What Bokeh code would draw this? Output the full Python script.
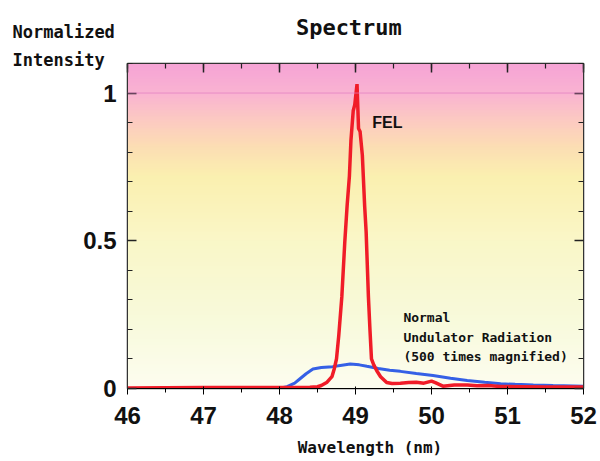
import numpy as np
from bokeh.plotting import figure
from bokeh.models import (Range1d, FixedTicker, LinearAxis, Label, Span, Title)
from bokeh.embed import file_html
from bokeh.resources import INLINE

# ---- data ----
fel_x = [46.0, 47.0, 48.0, 48.4, 48.5, 48.55, 48.62, 48.69, 48.72, 48.75, 48.78,
         48.82, 48.86, 48.89, 48.92, 48.94, 48.97, 48.99, 49.02, 49.04, 49.06,
         49.09, 49.12, 49.14, 49.17, 49.19, 49.21, 49.24, 49.28, 49.33, 49.41,
         49.48, 49.59, 49.7, 49.8, 49.9, 50.0, 50.05, 50.15, 50.3, 50.47, 50.6,
         50.75, 50.9, 51.2, 51.5, 52.0]
fel_y = [0.002, 0.003, 0.003, 0.004, 0.006, 0.010, 0.02, 0.04, 0.066, 0.10, 0.18,
         0.31, 0.50, 0.62, 0.72, 0.84, 0.94, 0.96, 1.03, 0.88, 0.87,
         0.79, 0.62, 0.53, 0.31, 0.20, 0.10, 0.08, 0.06, 0.04, 0.02,
         0.017, 0.018, 0.02, 0.021, 0.018, 0.025, 0.02, 0.008, 0.012, 0.012, 0.009,
         0.01, 0.007, 0.006, 0.005, 0.005]

und_x = [46.0, 47.0, 48.0, 48.1, 48.2, 48.27, 48.35, 48.44, 48.55, 48.7, 48.8,
         48.93, 49.05, 49.15, 49.3, 49.45, 49.59, 49.8, 50.02, 50.25, 50.47,
         50.7, 50.91, 51.1, 51.34, 51.6, 52.0]
und_y = [0.0, 0.0, 0.001, 0.006, 0.018, 0.033, 0.05, 0.066, 0.071, 0.074, 0.078,
         0.083, 0.080, 0.075, 0.068, 0.062, 0.058, 0.051, 0.044, 0.035, 0.027,
         0.021, 0.016, 0.014, 0.012, 0.010, 0.008]

x_ticks = [46, 47, 48, 49, 50, 51, 52]
y_ticks = [0, 0.5, 1]
y_tick_labels = {0: "0", 0.5: "0.5", 1: "1"}

title_text = "Spectrum\u00a0"
x_title = "\u00a0\u00a0\u00a0Wavelength (nm)"
y_title = "Normalized\nIntensity"

MONO = "DejaVu Sans Mono"
SANS = "Liberation Sans"

W, H = 600, 461
p = figure(width=W, height=H, output_backend="svg", toolbar_location=None,
           title=None,
           x_range=Range1d(46, 52), y_range=Range1d(0, 1.1),
           min_border_left=127, min_border_right=17, min_border_top=63,
           min_border_bottom=73, background_fill_color="white",
           border_fill_color="white")
p.grid.visible = False
p.outline_line_color = "#333333"
p.outline_line_width = 1.5

# background gradient (style only)
stops_v = [0.0, 0.25, 0.5, 0.72, 0.82, 0.92, 1.0, 1.1]
stops_c = [(253, 253, 240), (248, 250, 218), (250, 247, 200), (251, 240, 176),
           (252, 222, 180), (252, 200, 196), (250, 180, 210), (246, 164, 214)]
n = 220
vals = np.linspace(0, 1.1, n)
img = np.zeros((n, 1), dtype=np.uint32)
view = img.view(dtype=np.uint8).reshape((n, 1, 4))
for ch in range(3):
    view[:, 0, ch] = np.interp(vals, stops_v, [c[ch] for c in stops_c]).astype(np.uint8)
view[:, 0, 3] = 255
p.image_rgba(image=[img], x=46, y=0, dw=6, dh=1.1)

p.add_layout(Span(location=1, dimension="width", line_color="#e07cc0",
                  line_width=1, line_alpha=0.7))

p.line(und_x, und_y, line_color="#3560e6", line_width=3)
p.line(fel_x, fel_y, line_color="#f01c28", line_width=3.5)

# axes
for ax in p.xaxis:
    ax.ticker = FixedTicker(ticks=x_ticks, minor_ticks=list(np.arange(46, 52.01, 0.5)))
    ax.major_label_text_font = SANS
    ax.major_label_text_font_size = "24px"
    ax.major_label_text_font_style = "bold"
    ax.major_label_text_color = "#111111"
    ax.major_label_standoff = 12
for ax in p.yaxis:
    ax.ticker = FixedTicker(ticks=y_ticks, minor_ticks=list(np.round(np.arange(0, 1.101, 0.1), 2)))
    ax.major_label_overrides = y_tick_labels
    ax.major_label_text_font = SANS
    ax.major_label_text_font_size = "24px"
    ax.major_label_text_font_style = "bold"
    ax.major_label_text_color = "#111111"
    ax.major_label_standoff = 11

top = LinearAxis(ticker=FixedTicker(ticks=x_ticks, minor_ticks=list(np.arange(46, 52.01, 0.5))),
                 major_label_text_font_size="0px", major_label_text_color=None)
right = LinearAxis(ticker=FixedTicker(ticks=y_ticks, minor_ticks=list(np.round(np.arange(0, 1.101, 0.1), 2))),
                   major_label_text_font_size="0px", major_label_text_color=None)
p.add_layout(top, "above")
p.add_layout(right, "right")

for ax in [p.xaxis[0], p.yaxis[0], top, right]:
    ax.major_tick_in = 9
    ax.major_tick_out = 0
    ax.minor_tick_in = 5
    ax.minor_tick_out = 0
    ax.axis_line_color = "#333333"
    ax.major_tick_line_color = "#222222"
    ax.minor_tick_line_color = "#222222"
    ax.major_tick_line_width = 1.5
    ax.minor_tick_line_width = 1.2
top.major_label_standoff = 0
right.major_label_standoff = 0

# y title as a left-aligned title block above the frame
p.add_layout(Title(text=y_title, align="left", offset=-115, standoff=-12,
                   text_font=MONO, text_font_size="17px", text_font_style="bold",
                   text_color="#111111", text_line_height=1.4), "above")

# label-only axes for the texts outside the frame
def label_axis(text, side, standoff, size):
    ax = LinearAxis(ticker=FixedTicker(ticks=[]),
                    axis_line_color=None, major_tick_line_color=None,
                    minor_tick_line_color=None, major_label_standoff=0,
                    axis_label=text, axis_label_standoff=standoff,
                    axis_label_text_font=MONO, axis_label_text_font_size=size,
                    axis_label_text_font_style="bold",
                    axis_label_text_color="#111111")
    p.add_layout(ax, side)
    return ax

label_axis(title_text, "above", -14, "22px")
label_axis(x_title, "below", 11, "16px")

# texts inside the plot (data units)
def lab(text, x, y, font=MONO, size="13px", style="bold"):
    p.add_layout(Label(x=x, y=y, text=text, text_font=font, text_font_size=size,
                       text_font_style=style, text_align="left",
                       text_baseline="middle", text_color="#111111"))

lab("FEL", 49.22, 0.90, font=SANS, size="16px")
lab("Normal", 49.63, 0.24)
lab("Undulator Radiation", 49.63, 0.172)
lab("(500 times magnified)", 49.63, 0.108)

open("out.html", "w").write(file_html(p, INLINE))
